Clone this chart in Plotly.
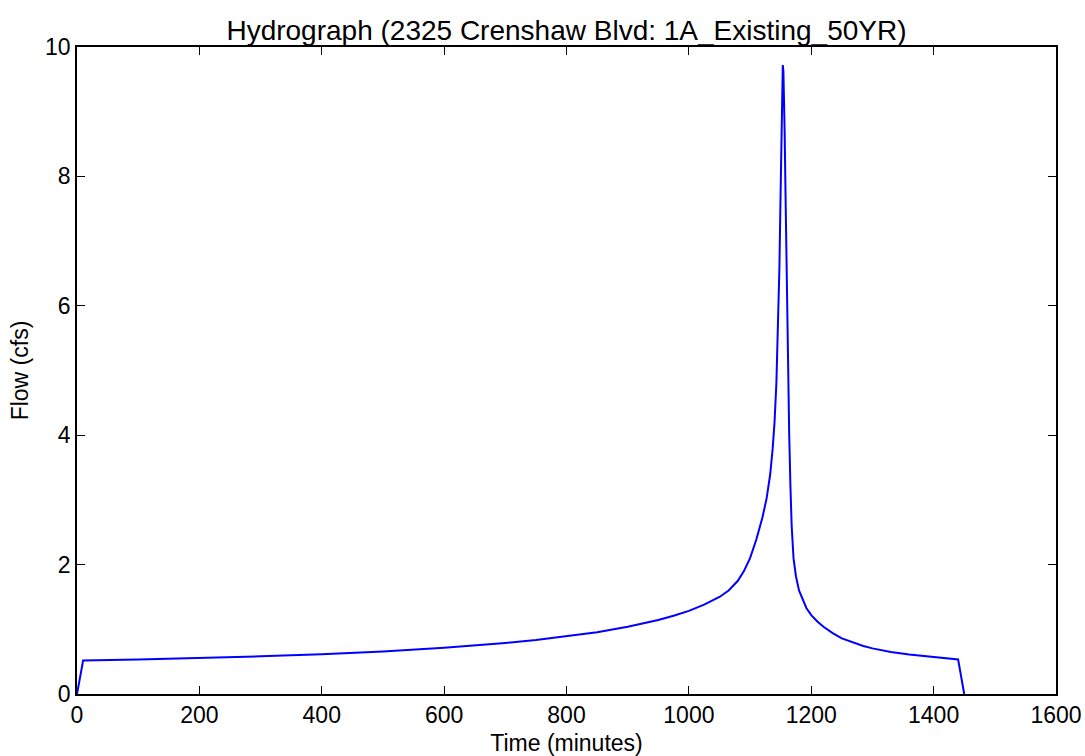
import plotly.graph_objects as go

time_min = [0, 10, 100, 200, 300, 400, 500, 600, 650, 700, 750, 800, 850, 900,
            925, 950, 975, 1000, 1025, 1050, 1065, 1080, 1090, 1100, 1110, 1120,
            1127, 1133, 1137, 1140, 1143, 1146, 1148, 1150, 1151.5, 1152.5,
            1153.5, 1154.5, 1155.5, 1156.5, 1158, 1160, 1162, 1164, 1166, 1168,
            1171, 1175, 1180, 1186, 1192, 1200, 1210, 1220, 1235, 1250, 1270,
            1285, 1300, 1330, 1360, 1400, 1440, 1450]
flow_cfs = [0, 0.517, 0.534, 0.556, 0.583, 0.616, 0.658, 0.713, 0.748, 0.788,
            0.835, 0.89, 0.955, 1.04, 1.09, 1.145, 1.21, 1.285, 1.38, 1.50, 1.60,
            1.75, 1.90, 2.10, 2.38, 2.72, 3.02, 3.40, 3.80, 4.2, 4.8, 5.7, 6.6,
            7.8, 8.9, 9.45, 9.72, 9.62, 9.3, 8.7, 7.7, 6.3, 5.0, 4.0, 3.2, 2.6,
            2.1, 1.82, 1.6, 1.45, 1.33, 1.22, 1.12, 1.04, 0.94, 0.86, 0.79,
            0.742, 0.705, 0.65, 0.61, 0.57, 0.535, 0]

x_ticks = [0, 200, 400, 600, 800, 1000, 1200, 1400, 1600]
y_ticks = [0, 2, 4, 6, 8, 10]

fig = go.Figure()
fig.add_trace(go.Scatter(x=time_min, y=flow_cfs, mode="lines",
                         line=dict(color="#0000ff", width=2), showlegend=False))

font_family = "Liberation Sans, Arial, sans-serif"
axis_common = dict(showline=True, linecolor="black", linewidth=1.5, mirror="ticks",
                   ticks="inside", ticklen=8, tickwidth=1, tickcolor="black",
                   showgrid=False, zeroline=False,
                   tickfont=dict(family=font_family, size=23, color="black"))

W, H = 1085, 756
fig.update_layout(
    width=W, height=H,
    margin=dict(l=77, r=29, t=47, b=62),
    paper_bgcolor="white", plot_bgcolor="white",
    title=dict(text="Hydrograph (2325 Crenshaw Blvd: 1A_Existing_50YR)",
               x=0.5, xref="paper", y=1 - 30 / H, yref="container",
               xanchor="center", yanchor="middle",
               font=dict(family=font_family, size=28, color="black")),
    xaxis=dict(range=[0, 1600], tickvals=x_ticks, ticktext=[str(v) for v in x_ticks],
               title=dict(text="Time (minutes)", standoff=8,
                          font=dict(family=font_family, size=23, color="black")),
               automargin=False, **axis_common),
    yaxis=dict(range=[0, 10], tickvals=y_ticks, ticktext=[str(v) for v in y_ticks],
               title=dict(text="Flow (cfs)", standoff=10,
                          font=dict(family=font_family, size=23, color="black")),
               automargin=False, **axis_common),
)

fig.write_html("out.html", config={"displayModeBar": False},
               post_script="document.body.style.margin='0';document.body.style.overflow='hidden';")
